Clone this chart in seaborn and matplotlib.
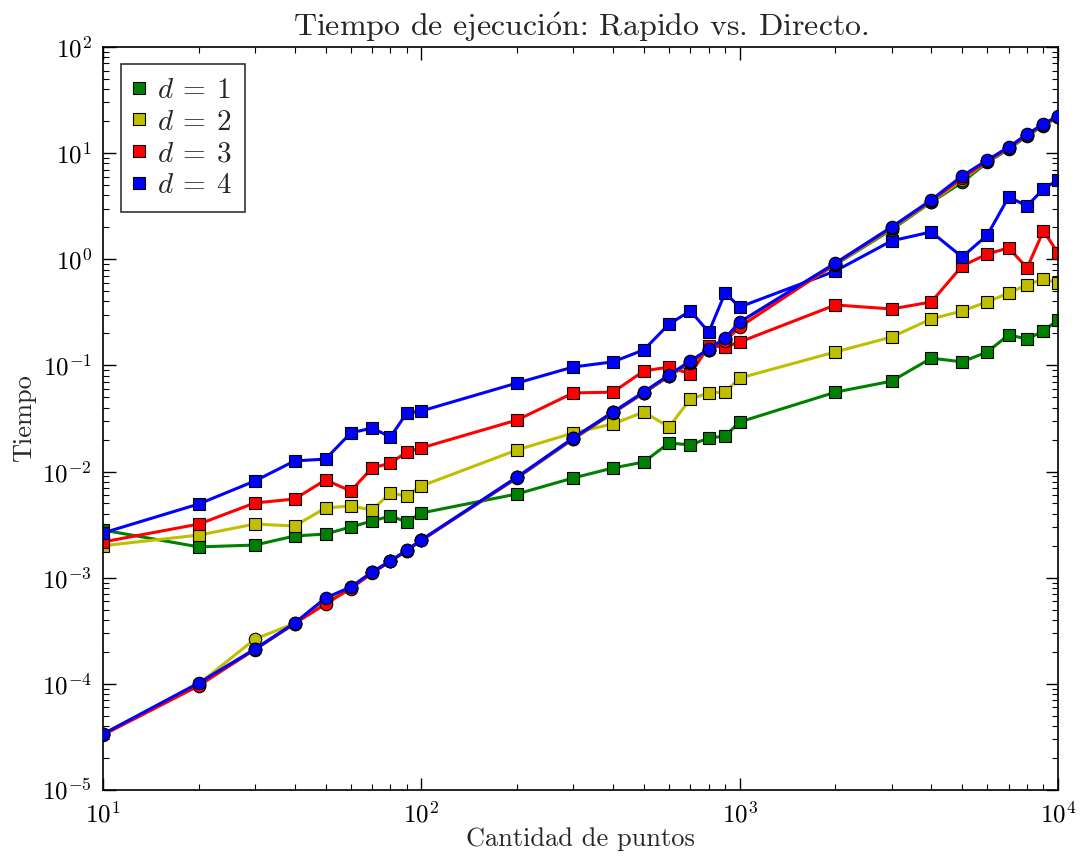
import numpy as np
import pandas as pd
import matplotlib
matplotlib.use("Agg")
import matplotlib.pyplot as plt
import seaborn as sns
from matplotlib.lines import Line2D
from matplotlib.ticker import NullFormatter

x = [10, 20, 30, 40, 50, 60, 70, 80, 90, 100,
     200, 300, 400, 500, 600, 700, 800, 900, 1000,
     2000, 3000, 4000, 5000, 6000, 7000, 8000, 9000, 10000]

# Rapido (square markers)
rap_d1 = [2.81e-3, 1.95e-3, 2.03e-3, 2.47e-3, 2.58e-3, 3.0e-3, 3.42e-3, 3.81e-3, 3.35e-3, 4.07e-3,
          6.15e-3, 8.7e-3, 1.08e-2, 1.23e-2, 1.86e-2, 1.78e-2, 2.07e-2, 2.16e-2, 2.93e-2,
          5.6e-2, 7.1e-2, 0.117, 0.108, 0.134, 0.194, 0.177, 0.211, 0.268]
rap_d2 = [2.0e-3, 2.52e-3, 3.2e-3, 3.07e-3, 4.54e-3, 4.74e-3, 4.34e-3, 6.28e-3, 5.89e-3, 7.31e-3,
          1.60e-2, 2.31e-2, 2.81e-2, 3.64e-2, 2.63e-2, 4.83e-2, 5.5e-2, 5.62e-2, 7.6e-2,
          0.134, 0.185, 0.274, 0.326, 0.396, 0.481, 0.573, 0.652, 0.597]
rap_d3 = [2.17e-3, 3.2e-3, 5.06e-3, 5.51e-3, 8.33e-3, 6.56e-3, 1.08e-2, 1.20e-2, 1.53e-2, 1.67e-2,
          3.06e-2, 5.5e-2, 5.6e-2, 8.86e-2, 9.66e-2, 8.3e-2, 0.152, 0.149, 0.166,
          0.371, 0.340, 0.396, 0.865, 1.12, 1.28, 0.828, 1.85, 1.15]
rap_d4 = [2.64e-3, 4.95e-3, 8.15e-3, 1.26e-2, 1.31e-2, 2.31e-2, 2.57e-2, 2.12e-2, 3.56e-2, 3.72e-2,
          6.83e-2, 9.66e-2, 0.108, 0.140, 0.245, 0.326, 0.206, 0.481, 0.355,
          0.776, 1.49, 1.81, 1.05, 1.69, 3.86, 3.18, 4.6, 5.58]

# Directo (circle markers)
dir_d1 = [3.35e-5, 9.8e-5, 2.10e-4, 3.70e-4, 6.2e-4, 8.0e-4, 1.12e-3, 1.43e-3, 1.80e-3, 2.25e-3,
          8.7e-3, 2.02e-2, 3.55e-2, 5.5e-2, 7.9e-2, 0.106, 0.139, 0.176, 0.245,
          0.89, 1.90, 3.45, 5.3, 8.2, 10.9, 14.5, 18.2, 21.8]
dir_d2 = [3.35e-5, 1.00e-4, 2.64e-4, 3.72e-4, 6.3e-4, 8.1e-4, 1.12e-3, 1.44e-3, 1.81e-3, 2.26e-3,
          8.8e-3, 2.04e-2, 3.6e-2, 5.55e-2, 8.0e-2, 0.108, 0.141, 0.178, 0.240,
          0.90, 1.95, 3.50, 5.6, 8.4, 11.1, 14.8, 18.5, 22.0]
dir_d3 = [3.3e-5, 9.6e-5, 2.12e-4, 3.70e-4, 5.65e-4, 7.9e-4, 1.10e-3, 1.43e-3, 1.80e-3, 2.25e-3,
          8.8e-3, 2.05e-2, 3.6e-2, 5.55e-2, 8.0e-2, 0.108, 0.141, 0.170, 0.230,
          0.91, 1.98, 3.55, 5.8, 8.4, 11.2, 14.8, 18.5, 22.1]
dir_d4 = [3.37e-5, 1.02e-4, 2.13e-4, 3.74e-4, 6.44e-4, 8.17e-4, 1.13e-3, 1.44e-3, 1.82e-3, 2.27e-3,
          8.89e-3, 2.07e-2, 3.64e-2, 5.62e-2, 8.13e-2, 0.110, 0.143, 0.181, 0.256,
          0.922, 2.01, 3.62, 6.1, 8.6, 11.4, 15.1, 18.8, 22.4]

labels = [r"$d\:=\:1$", r"$d\:=\:2$", r"$d\:=\:3$", r"$d\:=\:4$"]
colors = [(0, 0.5, 0), (0.75, 0.75, 0), (1, 0, 0), (0, 0, 1)]
title = r"Tiempo de ejecuci$\acute{\mathrm{o}}$n: Rapido vs. Directo."

sns.set_style("ticks")
plt.rcParams["font.family"] = ["cmr10", "DejaVu Serif"]
plt.rcParams["mathtext.fontset"] = "cm"
plt.rcParams["axes.formatter.use_mathtext"] = True
plt.rcParams["axes.unicode_minus"] = False

fig = plt.figure(figsize=(10.8, 8.57), dpi=100)
ax = fig.add_axes([0.0954, 0.0782, 0.8842, 0.867])

rap = [rap_d1, rap_d2, rap_d3, rap_d4]
dire = [dir_d1, dir_d2, dir_d3, dir_d4]

for i in range(4):
    sns.lineplot(x=x, y=rap[i], color=colors[i], marker="s", markersize=9,
                 markeredgecolor="k", markeredgewidth=0.8, linewidth=2.2, ax=ax,
                 legend=False, zorder=2)
for i in range(4):
    sns.lineplot(x=x, y=dire[i], color=colors[i], marker="o", markersize=9,
                 markeredgecolor="k", markeredgewidth=0.8, linewidth=2.2, ax=ax,
                 legend=False, zorder=3)

ax.set_xscale("log")
ax.set_yscale("log")
ax.set_xlim(10, 1e4)
ax.set_ylim(1e-5, 1e2)
ax.xaxis.set_minor_formatter(NullFormatter())
ax.yaxis.set_minor_formatter(NullFormatter())

for s in ax.spines.values():
    s.set_linewidth(1.2)
    s.set_color("k")
ax.tick_params(which="both", direction="in", top=True, right=True, colors="k")
ax.tick_params(which="major", length=9, width=1, labelsize=18, pad=8)
ax.tick_params(which="minor", length=4.5, width=0.8)

ax.set_title(title, fontsize=23, pad=8)
ax.set_xlabel("Cantidad de puntos", fontsize=19, labelpad=0)
ax.set_ylabel("Tiempo", fontsize=19)

handles = [Line2D([], [], color=colors[i], marker="s", linestyle="none",
                  markersize=9, markeredgecolor="k", markeredgewidth=0.8)
           for i in range(4)]
leg = ax.legend(handles, labels, loc="upper left", fontsize=21, frameon=True,
                fancybox=False, handlelength=0.4, handletextpad=0.4,
                borderpad=0.45, labelspacing=0.18, borderaxespad=0.6)
leg.get_frame().set_edgecolor("k")
leg.get_frame().set_linewidth(1.2)

fig.savefig("out.png", dpi=100)
